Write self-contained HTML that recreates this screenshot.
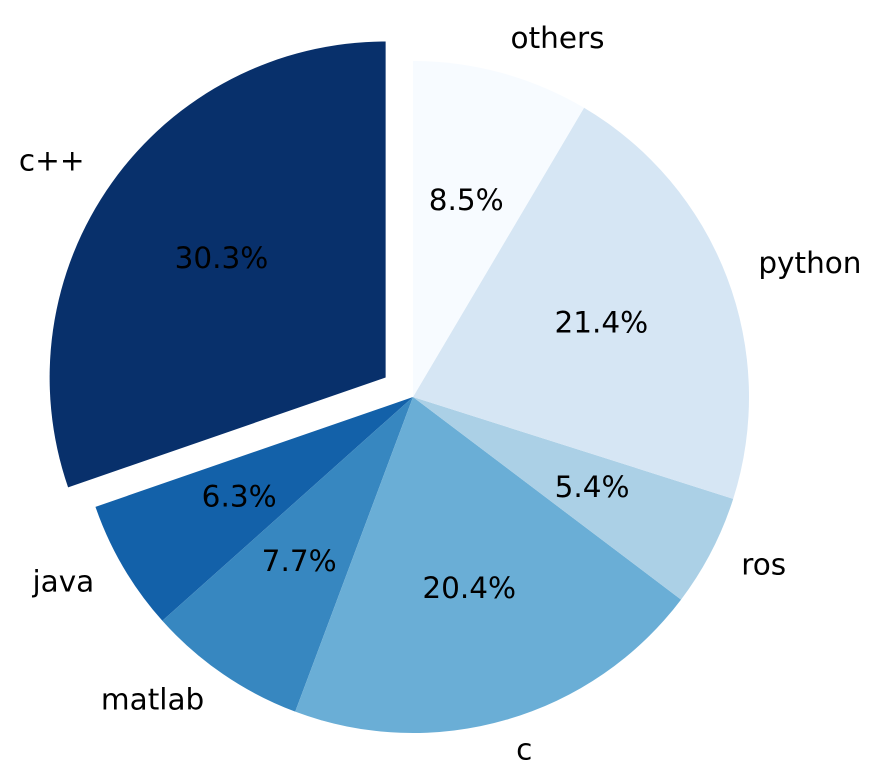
<!DOCTYPE html>
<html><head><meta charset="utf-8"><style>
html,body{margin:0;padding:0;background:#fff;width:869px;height:782px;overflow:hidden}
svg text{font-family:"DejaVu Sans","Liberation Sans",sans-serif;font-size:29.5px;fill:#000}
</style></head><body>
<svg id="chart" width="869" height="782" xmlns="http://www.w3.org/2000/svg"></svg>
<script>
const categories = ["c++","java","matlab","c","ros","python","others"];
const values = [30.3, 6.3, 7.7, 20.4, 5.4, 21.4, 8.5];
const colors = ["#08306b","#1361a9","#3787c0","#6aaed6","#abd0e6","#d6e6f4","#f7fbff"];
const explode = [0.1,0,0,0,0,0,0];

const svg = document.getElementById('chart');
const NS = "http://www.w3.org/2000/svg";
const cx = 413, cy = 397, R = 336, TY = -2.5;
const total = values.reduce((a,b)=>a+b,0);
let start = 90;
values.forEach((v,i)=>{
  const sweep = v/total*360;
  const end = start + sweep;
  const mid = (start+end)/2*Math.PI/180;
  const ox = cx + explode[i]*R*Math.cos(mid);
  const oy = cy - explode[i]*R*Math.sin(mid);
  const a0 = start*Math.PI/180, a1 = end*Math.PI/180;
  const x0 = ox + R*Math.cos(a0), y0 = oy - R*Math.sin(a0);
  const x1 = ox + R*Math.cos(a1), y1 = oy - R*Math.sin(a1);
  const large = sweep > 180 ? 1 : 0;
  const p = document.createElementNS(NS,'path');
  p.setAttribute('d',`M${ox},${oy} L${x0},${y0} A${R},${R} 0 ${large} 0 ${x1},${y1} Z`);
  p.setAttribute('fill',colors[i]);
  
  
  svg.appendChild(p);

  const lx = ox + 1.1*R*Math.cos(mid), ly = oy - 1.1*R*Math.sin(mid) + TY;
  const t = document.createElementNS(NS,'text');
  t.setAttribute('x',lx); t.setAttribute('y',ly);
  t.setAttribute('dominant-baseline','central');
  t.setAttribute('text-anchor', Math.cos(mid) < 0 ? 'end' : 'start');
  t.textContent = categories[i];
  
  
  svg.appendChild(t);

  const px = ox + 0.6*R*Math.cos(mid), py = oy - 0.6*R*Math.sin(mid) + TY;
  const pt = document.createElementNS(NS,'text');
  pt.setAttribute('x',px); pt.setAttribute('y',py);
  pt.setAttribute('dominant-baseline','central');
  pt.setAttribute('text-anchor','middle');
  pt.textContent = (v/total*100).toFixed(1) + '%';
  
  
  svg.appendChild(pt);
  start = end;
});
</script>
</body></html>
